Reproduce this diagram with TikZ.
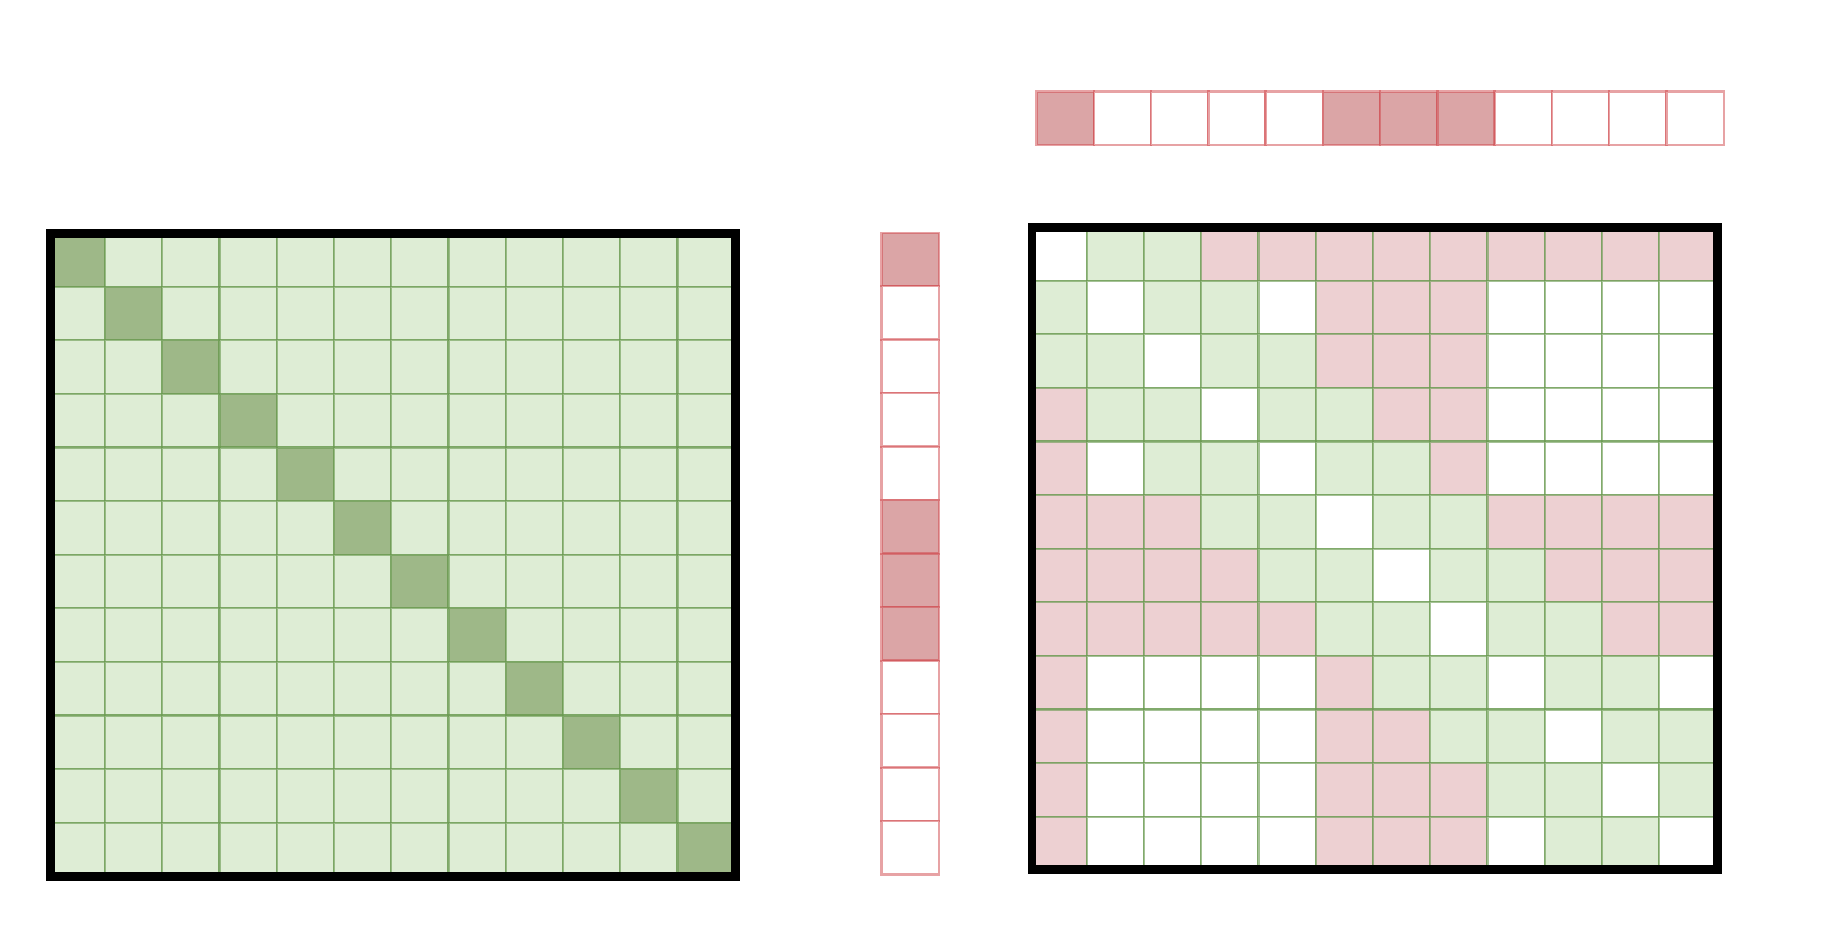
\documentclass[tikz,border=0pt]{standalone}
\begin{document}
\definecolor{lg}{HTML}{DEEDD5}
\definecolor{dg}{HTML}{9EB888}
\definecolor{pk}{HTML}{EDD0D2}
\definecolor{rf}{HTML}{DBA5A6}
\definecolor{grline}{HTML}{6A9A50}
\definecolor{rline}{HTML}{D0474B}
\tikzset{
  cellbase/.style={rectangle, inner sep=0pt, outer sep=0pt, minimum width=1.145cm, minimum height=1.072cm, draw=grline, draw opacity=0.6, line width=1.3pt},
  cellG/.style={cellbase, fill=lg},
  cellD/.style={cellbase, fill=dg},
  cellW/.style={cellbase, fill=white},
  cellR/.style={cellbase, fill=pk},
  vecbase/.style={rectangle, inner sep=0pt, outer sep=0pt, minimum width=1.146cm, minimum height=1.068cm, draw=rline, draw opacity=0.5, line width=1.4pt},
  vecR/.style={vecbase, fill=rf},
  vecW/.style={vecbase, fill=white},
  blackframe/.style={draw=black, line width=5.1pt}
}
\begin{tikzpicture}[x=0.02cm, y=-0.02cm]
\useasboundingbox (0,0) rectangle (1827,943);
% left matrix
\foreach \i in {0,...,11}{
  \foreach \j in {0,...,11}{
    \ifnum\i=\j \def\c{D}\else\def\c{G}\fi
    \node[cell\c] (A-\i-\j) at ({47.75+57.25*(\j+0.5)},{233.1+53.6*(\i+0.5)}) {};
  }
}
\draw[blackframe] ([xshift=0.054cm]A-0-0.north west) rectangle ([xshift=0.024cm]A-11-11.south east);
% column vector
\foreach \c [count=\i from 0] in {R,W,W,W,W,R,R,R,W,W,W,W}{
  \node[vec\c] (Q-\i) at ({881.7+57.3*0.5},{232.7+53.5*(\i+0.5)}) {};
}
% row vector
\foreach \c [count=\j from 0] in {R,W,W,W,W,R,R,R,W,W,W,W}{
  \node[vec\c] (K-\j) at ({1036.7+57.25*(\j+0.5)},{91.7+53.4*0.5}) {};
}
% right matrix
\foreach \row [count=\i from 0] in {
  {W,G,G,R,R,R,R,R,R,R,R,R},
  {G,W,G,G,W,R,R,R,W,W,W,W},
  {G,G,W,G,G,R,R,R,W,W,W,W},
  {R,G,G,W,G,G,R,R,W,W,W,W},
  {R,W,G,G,W,G,G,R,W,W,W,W},
  {R,R,R,G,G,W,G,G,R,R,R,R},
  {R,R,R,R,G,G,W,G,G,R,R,R},
  {R,R,R,R,R,G,G,W,G,G,R,R},
  {R,W,W,W,W,R,G,G,W,G,G,W},
  {R,W,W,W,W,R,R,G,G,W,G,G},
  {R,W,W,W,W,R,R,R,G,G,W,G},
  {R,W,W,W,W,R,R,R,W,G,G,W}}{
  \foreach \c [count=\j from 0] in \row {
    \node[cell\c] (B-\i-\j) at ({1029.4+57.25*(\j+0.5)},{227.1+53.6*(\i+0.5)}) {};
  }
}
\draw[blackframe] ([xshift=0.052cm]B-0-0.north west) rectangle ([xshift=0.022cm,yshift=0.016cm]B-11-11.south east);
\end{tikzpicture}
\end{document}
